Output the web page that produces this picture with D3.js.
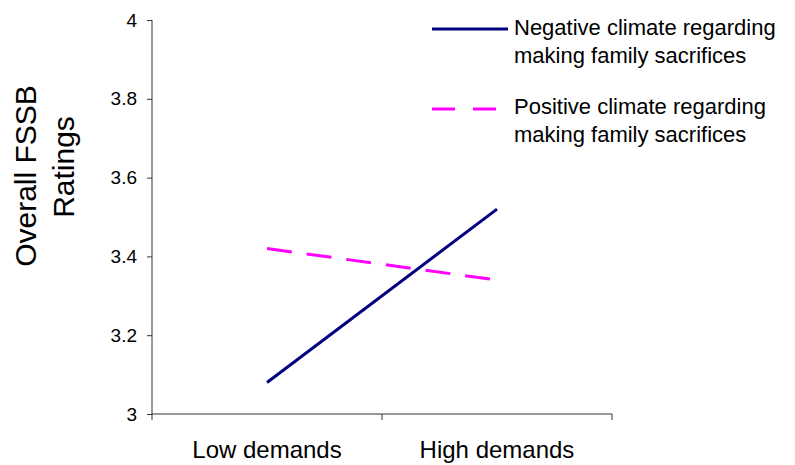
<!DOCTYPE html>
<html><head><meta charset="utf-8">
<script src="https://cdn.jsdelivr.net/npm/d3@7"></script>
<style>body{margin:0;background:#fff}svg{display:block;font-family:Arial,"Liberation Sans",sans-serif}</style>
</head><body>
<svg id="c" width="795" height="465"></svg>
<script>
const categories = ["Low demands", "High demands"];
const negativeClimate = [3.08, 3.52];
const positiveClimate = [3.42, 3.34];
const yTicks = [3, 3.2, 3.4, 3.6, 3.8, 4];
const seriesNames = ["Negative climate regarding|making family sacrifices", "Positive climate regarding|making family sacrifices"];

const FONT = "Arial, 'Liberation Sans', sans-serif";
const svg = d3.select("#c");
const x = d3.scaleBand().domain(categories).range([152, 612]);
const y = d3.scaleLinear().domain([3, 4]).range([414, 20]);

const yAxis = svg.append("g").attr("transform", "translate(152,0)")
  .call(d3.axisLeft(y).tickValues(yTicks).tickFormat(d => d3.format("")(d)).tickSize(5).tickPadding(10));
yAxis.attr("font-size", 19).attr("font-family", FONT);
yAxis.select(".domain").attr("d", "M0,20V414").attr("stroke", "#333");
yAxis.selectAll(".tick line").attr("stroke", "#333");
yAxis.selectAll("text").attr("fill", "#000");

const xAxis = svg.append("g").attr("transform", "translate(0,414)")
  .call(d3.axisBottom(x).tickSize(0).tickFormat(""));
xAxis.select(".domain").attr("d", "M152,0H612").attr("stroke", "#333");
const bounds = [152, 382, 612];
xAxis.selectAll(".bt").data(bounds).enter().append("line")
  .attr("x1", d => d).attr("x2", d => d).attr("y1", 0).attr("y2", 6).attr("stroke", "#333");
svg.selectAll(".xl").data(categories).enter().append("text")
  .attr("x", d => x(d) + x.bandwidth() / 2).attr("y", 458)
  .attr("text-anchor", "middle").attr("font-size", 24).text(d => d);

// y title
const yt = svg.append("text").attr("transform", "rotate(-90)")
  .attr("text-anchor", "middle").attr("font-size", 30);
yt.append("tspan").attr("x", -176).attr("y", 36).text("Overall FSSB");
yt.append("tspan").attr("x", -167).attr("y", 74).text("Ratings");

const line = d3.line().x((d, i) => x(categories[i]) + x.bandwidth() / 2).y(d => y(d));
svg.append("path").datum(negativeClimate).attr("d", line)
  .attr("fill", "none").attr("stroke", "#000080").attr("stroke-width", 3);
svg.append("path").datum(positiveClimate).attr("d", line)
  .attr("fill", "none").attr("stroke", "#ff00ff").attr("stroke-width", 3).attr("stroke-dasharray", "25,15");

// legend
const leg = [
  {y: 29, ty: 35, color: "#000080", dash: null, x2: 508},
  {y: 109, ty: 114, color: "#ff00ff", dash: "23,18", x2: 499}
];
leg.forEach((l, i) => {
  svg.append("line").attr("x1", 432).attr("x2", l.x2).attr("y1", l.y).attr("y2", l.y)
    .attr("stroke", l.color).attr("stroke-width", 3).attr("stroke-dasharray", l.dash);
  const parts = seriesNames[i].split("|");
  const t = svg.append("text").attr("x", 514).attr("y", l.ty).attr("font-size", 22);
  t.append("tspan").attr("x", 514).text(parts[0]);
  t.append("tspan").attr("x", 514).attr("dy", 28).text(parts[1]);
});
</script>
</body></html>
